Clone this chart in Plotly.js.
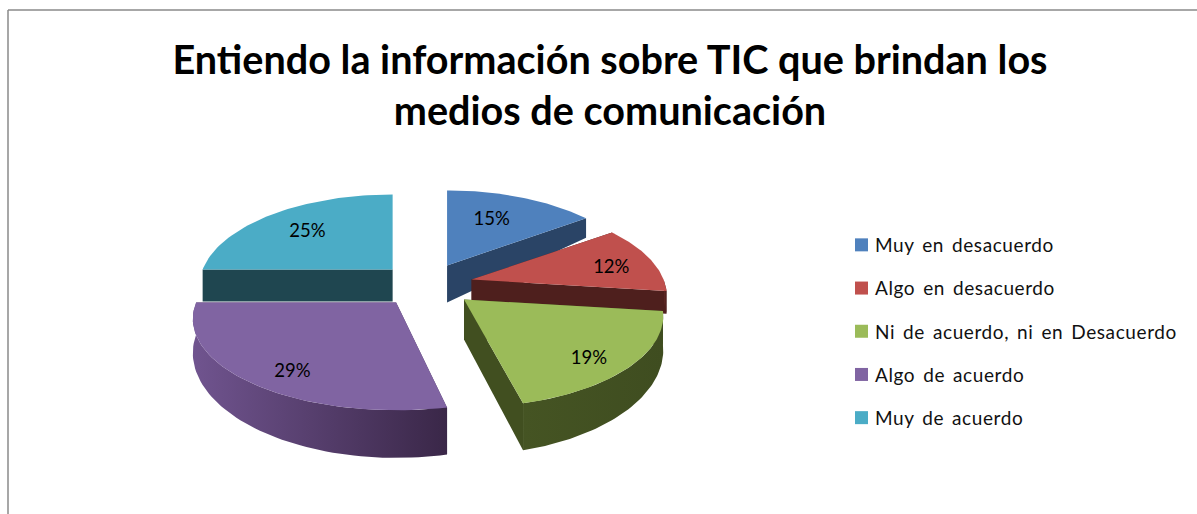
<!DOCTYPE html>
<html>
<head>
<meta charset="utf-8">
<script src="https://cdn.plot.ly/plotly-3.0.1.min.js"></script>
<style>html,body{margin:0;padding:0;background:#fff}#chart{width:1197px;height:514px}
.legendtext{letter-spacing:.6px;word-spacing:2.5px}</style>
</head>
<body>
<div id="chart"></div>
<script>
// --- data ---
const categories = ["Muy en desacuerdo","Algo en desacuerdo","Ni de acuerdo, ni en Desacuerdo","Algo de acuerdo","Muy de acuerdo"];
const values = [15,12,19,29,25];
const chartTitle = "Entiendo la información sobre TIC que brindan los<br>medios de comunicación";

// --- style ---
const topColors = ["#4f81bd","#c0504d","#9bbb59","#8064a2","#4bacc6"];
const wallColors = ["#2a4466","#4e1f1d","#414f20","#4a3560","#1f4650"];
const arcLight = ["#3a5a85","#5e2623","#455423","#70548f","#2c6575"];
const arcDark = ["#2a4466","#4e1f1d","#3f4d20","#3a2748","#1f4650"];

// --- 3D pie projection (pixel axes) ---
const CX=428, CY=285, R=200, RY=88.5, K=0.18, D=32;
const explodeX=[42,45,48,52,50], explodeY=[22,22,22,22,22];
const radiusX=[0.95,0.96,0.98,1.0,0.95];
const apexDepth=[37,25,40,32,32], depthScale=[1,0.68,1,1,1];
const startTrim=[0,0,0,0.04,0];
const labelR=[0.62,0.72,0.8,0.8,0.62], labelDx=[-4,10,-5,7,-8], labelDy=[-1,4,8,7,-1];

const total = values.reduce((a,b)=>a+b,0);
const rad = p => p*2*Math.PI/total;
function proj(a,r,i){
  const X=r*Math.sin(a), Y=r*Math.cos(a), s=1/(1+K*Y);
  return {x:R*radiusX[i]*X*s, y:-RY*Y*s, d:D*depthScale[i]*Math.pow(s,Y>0?5:2)};
}
const traces=[], labels={x:[],y:[],text:[]};
const order=[4,0,1,3,2];
let cum=0;
const spans=values.map(v=>{const a=[rad(cum),rad(cum+v)];cum+=v;return a;});
order.forEach(i=>{
  const a0=spans[i][0]+startTrim[i], a1=spans[i][1], mid=(spans[i][0]+a1)/2;
  const ax=CX+explodeX[i]*Math.sin(mid), ay=CY-explodeY[i]*Math.cos(mid);
  const arc=[];
  const n=60;
  for(let k=0;k<=n;k++){const a=a0+(a1-a0)*k/n;const p=proj(a,1,i);arc.push(Object.assign(p,{x:ax+p.x,y:ay+p.y,front:Math.cos(a)<0}));}
  const base={type:'scatter',mode:'lines',line:{width:0},fill:'toself',hoverinfo:'skip',showlegend:false};
  // radial walls
  [arc[0],arc[n]].forEach(e=>{
    traces.push(Object.assign({},base,{
      x:[ax,e.x,e.x,ax,ax], y:[ay,e.y,e.y+e.d,ay+apexDepth[i],ay], fillcolor:wallColors[i]}));
  });
  // outer wall, only where it faces the viewer, with horizontal shading
  const fr=arc.filter(p=>p.front);
  if(fr.length>1){
    const xs=fr.map(p=>p.x).concat(fr.map(p=>p.x).reverse());
    const ys=fr.map(p=>p.y).concat(fr.map(p=>p.y+p.d).reverse());
    traces.push(Object.assign({},base,{x:xs,y:ys,fillcolor:arcDark[i],
      fillgradient:{type:'horizontal',colorscale:[[0,arcLight[i]],[1,arcDark[i]]]}}));
  }
  // top face
  traces.push(Object.assign({},base,{
    x:[ax].concat(arc.map(p=>p.x),[ax]), y:[ay].concat(arc.map(p=>p.y),[ay]), fillcolor:topColors[i]}));
  const l=proj(mid,labelR[i],i);
  labels.x.push(ax+l.x+labelDx[i]); labels.y.push(ay+l.y+labelDy[i]); labels.text.push(Math.round(values[i]/total*100)+'%');
});
traces.push({type:'scatter',mode:'text',x:labels.x,y:labels.y,text:labels.text,
  textposition:'middle center',textfont:{family:'Lato, sans-serif',size:18.5,color:'#000'},hoverinfo:'skip',showlegend:false});
// legend entries
categories.forEach((c,i)=>traces.push({type:'scatter',mode:'markers',x:[null],y:[null],name:c,legendgroup:c,
  marker:{symbol:'square',size:13,color:topColors[i]},hoverinfo:'skip'}));

const layout={
  width:1197,height:514,margin:{l:0,r:0,t:0,b:0},paper_bgcolor:'#fff',plot_bgcolor:'#fff',
  font:{family:'Lato, sans-serif',color:'#000'},
  title:{text:chartTitle,font:{family:'Lato, sans-serif',size:39.6,color:'#000',weight:700},x:610/1197,xanchor:'center',y:0.857,yanchor:'middle',automargin:false},
  xaxis:{range:[0,1197],visible:false,fixedrange:true},
  yaxis:{range:[514,0],visible:false,fixedrange:true},
  showlegend:true,
  legend:{x:835/1197,xanchor:'left',y:1-226/514,yanchor:'top',font:{family:'Lato, sans-serif',size:19,color:'#111'},
    traceorder:'grouped',tracegroupgap:15.5,bgcolor:'rgba(0,0,0,0)',itemclick:false,itemdoubleclick:false},
  shapes:[
    {type:'line',xref:'x',yref:'y',x0:8,y0:10,x1:8,y1:514,line:{color:'#8a8a8a',width:1.5}},
    {type:'line',xref:'x',yref:'y',x0:8,y0:10,x1:1197,y1:10,line:{color:'#8a8a8a',width:1.5}}
  ]
};
Plotly.newPlot('chart',traces,layout,{displayModeBar:false}).then(gd=>{
  // the reference keeps its swatches closer to the text than the legend's default gap
  gd.querySelectorAll('.legend .traces .legendpoints').forEach(g=>{
    g.setAttribute('transform',(g.getAttribute('transform')||'')+' translate(6.5,0)');
  });
});
</script>
</body>
</html>
